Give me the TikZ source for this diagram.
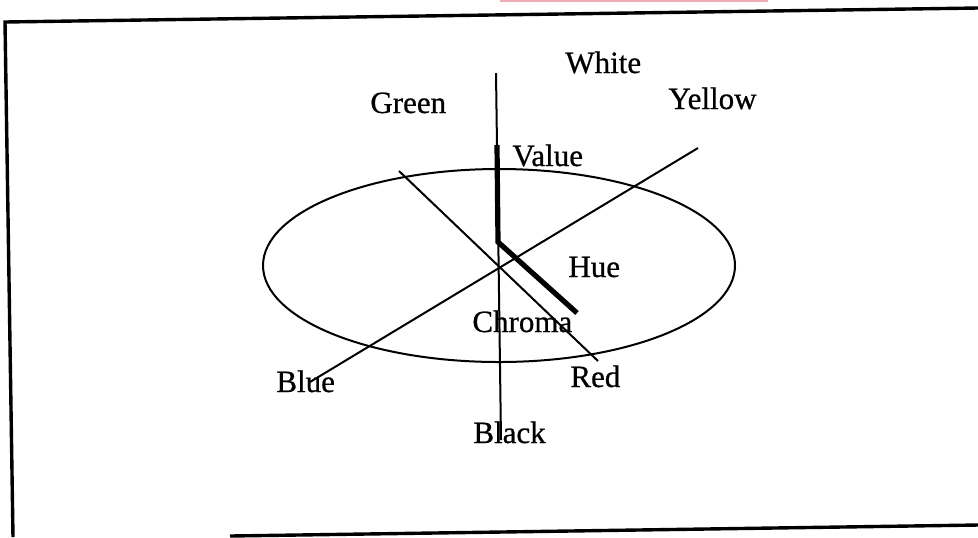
\documentclass[tikz,border=0pt]{standalone}
\usepackage{fontspec}
\setmainfont[FakeBold=0.7]{Liberation Serif}
\definecolor{pinkmark}{RGB}{240,170,180}
\begin{document}
\begin{tikzpicture}[x=0.5pt,y=-0.5pt,
  lbl/.style={anchor=base west,inner sep=0pt,font=\fontsize{15.5}{18}\selectfont},
  thinax/.style={line width=1pt},
  thickax/.style={line width=2.6pt,line join=miter},
  framebox/.style={line width=1.7pt}]
\useasboundingbox (0,0) rectangle (978,537);
% cropped mark at top
\coordinate (pa) at (500,1);
\coordinate (pb) at (768,1);
\draw[pinkmark,line width=0.6pt] (pa) -- (pb);
% frame (open on the right)
\coordinate (fbl) at (13,537);
\coordinate (ftl) at (5,22);
\coordinate (ftr) at (978,8);
\coordinate (fb1) at (230,536);
\coordinate (fb2) at (978,525);
\draw[framebox] (fbl) -- (ftl) -- (ftr);
\draw[framebox] (fb1) -- (fb2);
% ellipse
\coordinate (c) at (499,265.5);
\draw[line width=1pt] (c) ellipse [x radius=236, y radius=96.5];
% axes
\coordinate (vtop) at (496,73);
\coordinate (vbot) at (501,440);
\coordinate (gA) at (399,171);
\coordinate (rA) at (598,361);
\coordinate (yA) at (698,148);
\coordinate (bA) at (310,382);
\draw[thinax] (vtop) -- (vbot);
\draw[thinax] (gA) -- (rA);
\draw[thinax] (yA) -- (bA);
% value / chroma thick lines
\coordinate (v1) at (497,145);
\coordinate (v2) at (498,242);
\coordinate (h2) at (577,313);
\draw[thickax] (v1) -- (v2) -- (h2);
% labels
\node[lbl] (white)  at (565,73)  {White};
\node[lbl] (green)  at (370,113) {Green};
\node[lbl] (yellow) at (668,109) {Yellow};
\node[lbl] (value)  at (512,166) {Value};
\node[lbl] (hue)    at (568,277) {Hue};
\node[lbl] (chroma) at (472,332) {Chroma};
\node[lbl] (blue)   at (276,392) {Blue};
\node[lbl] (red)    at (570,387) {Red};
\node[lbl] (black)  at (473,443) {Black};
\end{tikzpicture}
\end{document}
